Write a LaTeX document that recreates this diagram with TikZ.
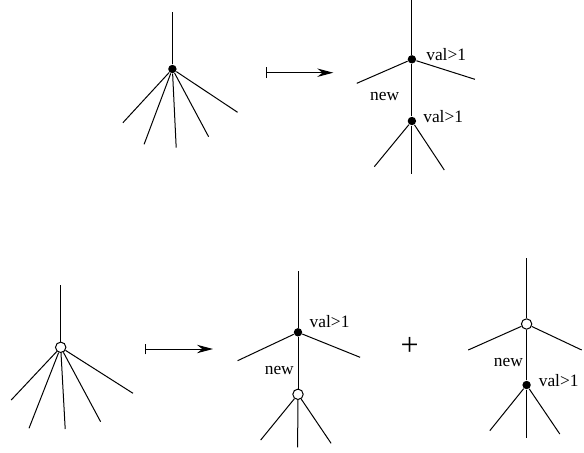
\documentclass[tikz,border=0pt]{standalone}
\usepackage{fontspec}
\setmainfont{Liberation Serif}
\usetikzlibrary{arrows.meta}
\tikzset{
  full/.style={circle,fill,inner sep=0pt,minimum size=4.2pt},
  hollow/.style={circle,draw,fill=white,inner sep=0pt,minimum size=5.2pt},
  lbl/.style={inner sep=0pt,font=\fontsize{8.7}{10}\selectfont},
  maps/.style={{Bar[width=5.3pt]}-{Stealth[length=8pt,width=4.2pt]}}
}
\begin{document}
\begin{tikzpicture}[x=0.5pt,y=-0.5pt,line width=0.5pt]
      \useasboundingbox (0,0) rectangle (584,452);
      \draw
        (172.4,69) node[full] (a){}
        (411.9,59.3) node[full] (b1){}
        (411.9,121) node[full] (b2){}
        (60.7,347.3) node[hollow] (c){}
        (298,332.3) node[full] (d1){}
        (298,394.3) node[hollow] (d2){}
        (526.6,324) node[hollow] (e1){}
        (526.6,385) node[full] (e2){};
      \draw
        (446.2,54.3) node[lbl] (vb1){val>1}
        (443.2,116.7) node[lbl] (vb2){val>1}
        (384.7,96.7) node[lbl] (nb){new}
        (329.6,321.7) node[lbl] (vd1){val>1}
        (279.3,370.7) node[lbl] (nd){new}
        (558.7,381) node[lbl] (ve2){val>1}
        (508.4,362.7) node[lbl] (ne){new}
        (409.7,346.7) node[font=\fontsize{16}{16}\selectfont] (plus){+};
      \path
        (172.4,11.7) coordinate (a0)
        (122.9,122.7) coordinate (a1)
        (144.1,144.3) coordinate (a2)
        (176.2,147.7) coordinate (a3)
        (208.6,136.7) coordinate (a4)
        (237.6,112.3) coordinate (a5)
        (411.9,0) coordinate (b0)
        (356.8,83.3) coordinate (b3)
        (474.9,79.3) coordinate (b4)
        (374.3,166.7) coordinate (b5)
        (411.9,174) coordinate (b6)
        (444.3,170) coordinate (b7)
        (60.7,285) coordinate (c0)
        (11.2,400) coordinate (c1)
        (29,428.3) coordinate (c2)
        (65.2,429) coordinate (c3)
        (100.6,421.7) coordinate (c4)
        (133,393.3) coordinate (c5)
        (298,270.7) coordinate (d0)
        (237.6,360.7) coordinate (d3)
        (360.1,357.3) coordinate (d4)
        (260.7,440) coordinate (d5)
        (297.6,447.3) coordinate (d6)
        (331.1,443.3) coordinate (d7)
        (526.6,258.3) coordinate (e0)
        (468.2,350) coordinate (e3)
        (581.7,350) coordinate (e4)
        (489.8,430.7) coordinate (e5)
        (526.6,438.3) coordinate (e6)
        (559.8,434) coordinate (e7)
        (265.5,72.7) coordinate (m1s)
        (333.3,72.7) coordinate (m1e)
        (144.5,349) coordinate (m2s)
        (213,349) coordinate (m2e);
      \begin{scope}[-]
        \draw (a) to (a0);
        \draw (a) to (a1);
        \draw (a) to (a2);
        \draw (a) to (a3);
        \draw (a) to (a4);
        \draw (a) to (a5);
        \draw (b1) to (b0);
        \draw (b1) to (b3);
        \draw (b1) to (b4);
        \draw (b1) to (b2);
        \draw (b2) to (b5);
        \draw (b2) to (b6);
        \draw (b2) to (b7);
        \draw (c) to (c0);
        \draw (c) to (c1);
        \draw (c) to (c2);
        \draw (c) to (c3);
        \draw (c) to (c4);
        \draw (c) to (c5);
        \draw (d1) to (d0);
        \draw (d1) to (d3);
        \draw (d1) to (d4);
        \draw (d1) to (d2);
        \draw (d2) to (d5);
        \draw (d2) to (d6);
        \draw (d2) to (d7);
        \draw (e1) to (e0);
        \draw (e1) to (e3);
        \draw (e1) to (e4);
        \draw (e1) to (e2);
        \draw (e2) to (e5);
        \draw (e2) to (e6);
        \draw (e2) to (e7);
      \end{scope}
      \draw[maps] (m1s) to (m1e);
      \draw[maps] (m2s) to (m2e);
    \end{tikzpicture}
\end{document}
